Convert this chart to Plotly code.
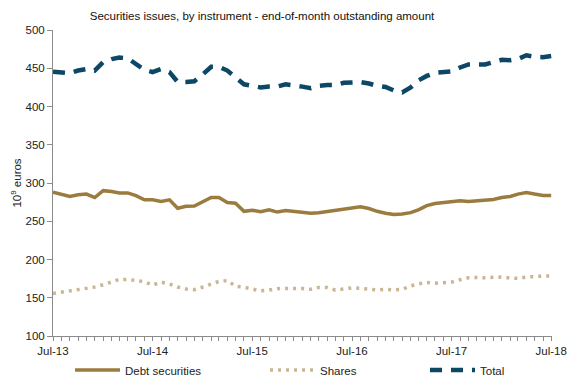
import pandas as pd
import plotly.graph_objects as go

# Months Jul-13 .. Jul-18 (61 end-of-month observations)
months = pd.date_range("2013-07-01", "2018-07-01", freq="MS")

debt_securities = [
    288, 285, 282.5, 284.5, 285.5, 281, 290, 289, 287, 287,
    283.5, 278, 278, 276, 278, 267, 269.5, 270, 276, 281,
    281, 274.5, 273.5, 263, 264.5, 262.5, 265, 262, 264, 263,
    262, 260.5, 261, 262.7, 264.5, 266, 268, 268.8, 266.6, 263,
    260.5, 258.7, 259.6, 261.3, 265, 270.5, 273.2, 274, 275.4, 276.7,
    275.8, 276.7, 277.6, 278.5, 281, 282.4, 285.5, 287.6, 285.5, 283.7,
    283.7,
]

shares = [
    155.5, 157, 158.5, 160, 162, 164, 167, 171, 174, 174,
    173, 171, 166.5, 170.5, 168, 164, 161.5, 160.5, 164, 168.5,
    171.4, 172.5, 165, 163.8, 162, 159, 160, 161.8, 162.2, 162.2,
    162, 161, 163.5, 163.4, 160, 161.5, 163, 162.3, 161.5, 160.2,
    161.2, 160.3, 161, 165.5, 168, 170, 169, 169.2, 170.5, 173.5,
    176.2, 176.5, 176, 176.7, 177, 175.8, 175.5, 177, 178, 178.4,
    178.6,
]

total = [
    445.5, 444, 443.5, 447, 449, 447, 458, 462, 464, 463,
    456, 448, 445, 449, 445, 432, 432, 433, 442, 452,
    452, 447, 438, 429, 427, 425, 426, 426, 429, 428,
    426, 424, 427, 428, 428, 431, 432, 432, 430, 427,
    425.5, 421, 418.5, 425, 434, 440, 444, 445, 446, 451,
    455, 455, 455, 458, 461, 460.5, 462, 467, 465, 464.5,
    466,
]

series_names = ["Debt securities", "Shares", "Total"]

FONT = "Liberation Sans, Arial, sans-serif"
FS = 11.5
C_DEBT = "#9B7B3E"
C_SHARES = "#CBB592"
C_TOTAL = "#0C4765"
AXIS = "#8C8C8C"

fig = go.Figure()
fig.add_trace(go.Scatter(x=months, y=debt_securities, name=series_names[0], mode="lines",
                         line=dict(color=C_DEBT, width=3.5), legend="legend"))
fig.add_trace(go.Scatter(x=months, y=shares, name=series_names[1], mode="lines",
                         line=dict(color=C_SHARES, width=3.5, dash="3px,5px"), legend="legend2"))
fig.add_trace(go.Scatter(x=months, y=total, name=series_names[2], mode="lines",
                         line=dict(color=C_TOTAL, width=4.5, dash="12px,9px"), legend="legend3"))

leg_common = dict(orientation="h", xref="container", yref="container", yanchor="middle",
                  xanchor="left", y=(378 - 370) / 378, bgcolor="rgba(0,0,0,0)",
                  font=dict(family=FONT, size=FS, color="#222"), itemwidth=45)

fig.update_layout(
    width=568, height=378,
    margin=dict(l=53, r=16, t=30, b=42, autoexpand=False),
    paper_bgcolor="white", plot_bgcolor="white",
    font=dict(family=FONT, size=FS, color="#222"),
    title=dict(text="Securities issues, by instrument - end-of-month outstanding amount",
               x=262 / 568, xanchor="center", xref="container",
               y=1 - 16 / 378, yanchor="middle", yref="container",
               font=dict(family=FONT, size=FS, color="#111")),
    showlegend=True,
    legend=dict(leg_common, x=70 / 568),
    legend2=dict(leg_common, x=265 / 568),
    legend3=dict(leg_common, x=425 / 568),
    xaxis=dict(
        range=["2013-07-01", "2018-07-04"],
        showgrid=False, zeroline=False, automargin=False,
        showline=True, linecolor=AXIS, linewidth=1,
        ticks="outside", ticklen=4, tickcolor=AXIS,
        tick0="2013-07-01", dtick="M12", tickformat="%b-%y",
        ticklabeloverflow="allow",
        tickfont=dict(family=FONT, size=FS, color="#222"),
        minor=dict(ticks="outside", ticklen=4, tickcolor=AXIS, dtick="M1", showgrid=False),
    ),
    yaxis=dict(
        range=[100, 500], dtick=50, tick0=100,
        showgrid=False, zeroline=False, automargin=False,
        showline=True, linecolor=AXIS, linewidth=1,
        ticks="outside", ticklen=5, tickcolor=AXIS,
        tickfont=dict(family=FONT, size=FS, color="#222"),
        title=dict(text="10<sup>9</sup> euros", standoff=1,
                   font=dict(family=FONT, size=FS, color="#222")),
    ),
)

fig.write_html("out.html", config={"displayModeBar": False},
               post_script="document.body.style.margin='0';document.body.style.overflow='hidden';")
